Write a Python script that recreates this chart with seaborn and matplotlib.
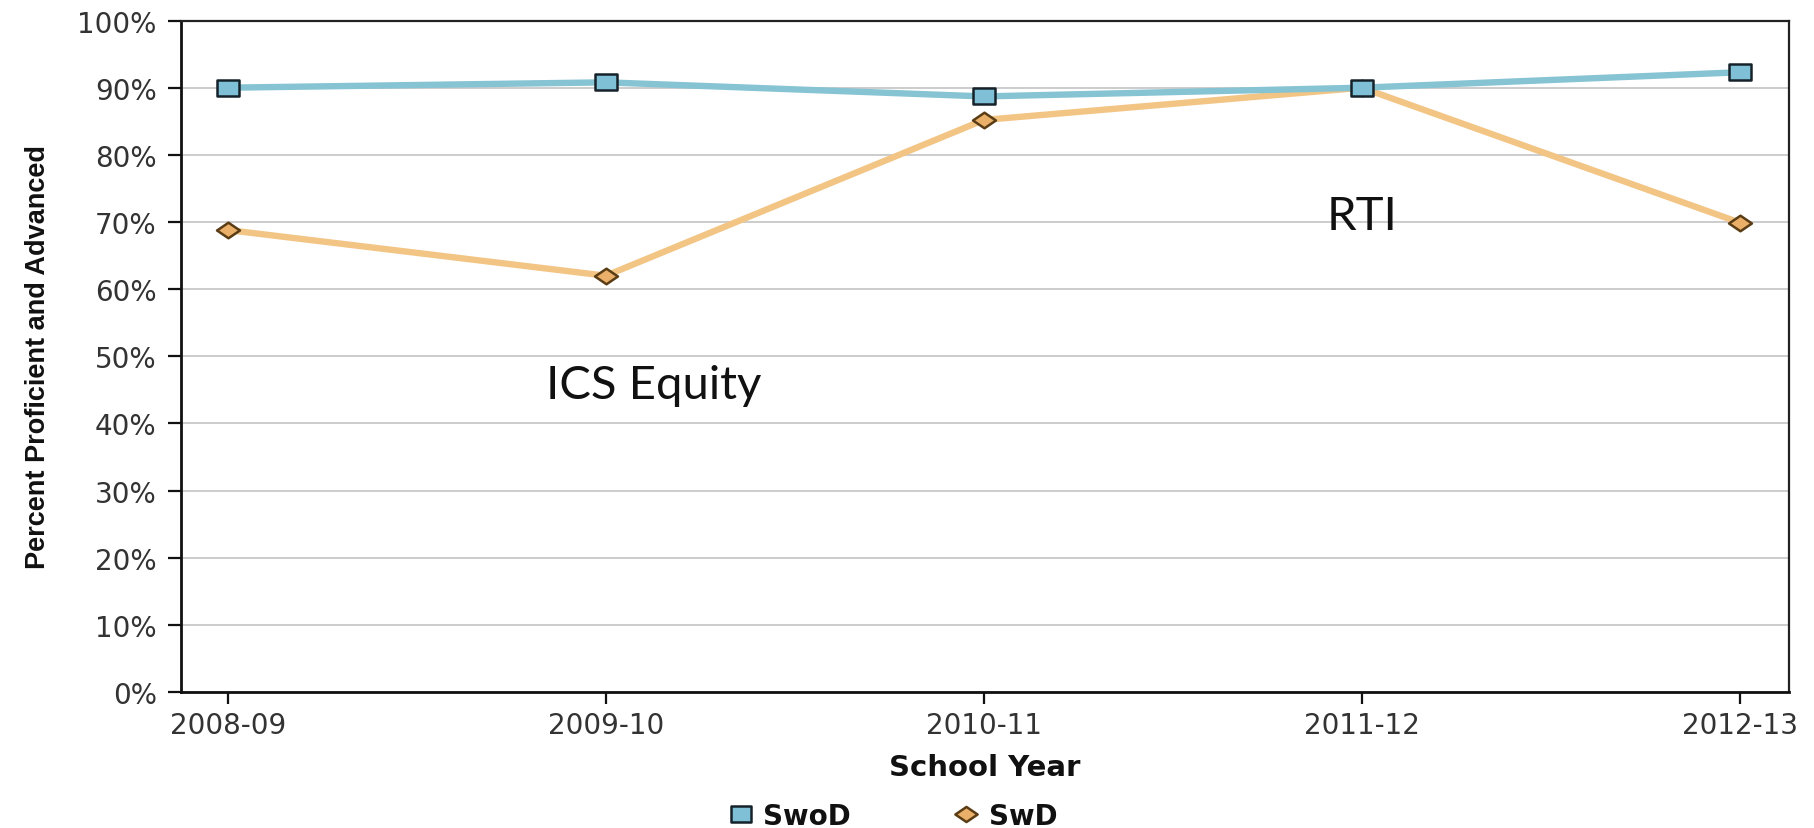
import numpy as np
import pandas as pd
import matplotlib
matplotlib.use("Agg")
import matplotlib.pyplot as plt
from matplotlib import font_manager
from matplotlib.path import Path
from matplotlib.lines import Line2D
from matplotlib.ticker import FuncFormatter
import seaborn as sns

# School years on the x axis
years = ["2008-09", "2009-10", "2010-11", "2011-12", "2012-13"]
# Percent proficient and advanced, by group
swod = [90.0, 90.8, 88.7, 90.0, 92.3]
swd = [68.8, 62.0, 85.2, 90.0, 69.9]
series_names = ["SwoD", "SwD"]
y_ticks = list(range(0, 101, 10))

# Notes placed on the plot: (text, x position in years, y value)
notes = [("ICS Equity", 1.126, 45.8), ("RTI", 3.0, 70.9)]

df = pd.DataFrame({
    "year_idx": list(range(len(years))) * 2,
    "value": swod + swd,
    "group": [series_names[0]] * len(years) + [series_names[1]] * len(years),
})

sns.set_theme(style="white")
plt.rcParams["font.family"] = ["DejaVu Sans"]

installed = {f.name for f in font_manager.fontManager.ttflist}
if "Liberation Sans Narrow" in installed:
    ylab_family, ylab_size = ["Liberation Sans Narrow", "DejaVu Sans"], 22
else:
    ylab_family, ylab_size = ["Liberation Sans", "DejaVu Sans"], 19.5

# Slightly wide markers: a flattened square and a flattened diamond
sq = Path([(-1, -0.74), (1, -0.74), (1, 0.74), (-1, 0.74), (-1, -0.74)],
          [Path.MOVETO, Path.LINETO, Path.LINETO, Path.LINETO, Path.CLOSEPOLY])
dm = Path([(-1, 0), (0, 0.68), (1, 0), (0, -0.68), (-1, 0)],
          [Path.MOVETO, Path.LINETO, Path.LINETO, Path.LINETO, Path.CLOSEPOLY])

styles = {
    "SwoD": dict(color="#86c3d3", marker=sq, markersize=16.5,
                 markerfacecolor="#7fc0d6", markeredgecolor="#15222a",
                 markeredgewidth=1.8),
    "SwD": dict(color="#f2c585", marker=dm, markersize=16.5,
                markerfacecolor="#eab06a", markeredgecolor="#5b3d15",
                markeredgewidth=1.8),
}

fig = plt.figure(figsize=(18.14, 8.29), dpi=100)
ax = fig.add_axes([0.0998, 0.164, 0.9862 - 0.0998, 0.974 - 0.164])

for name in ["SwD", "SwoD"]:
    sub = df[df["group"] == name]
    sns.lineplot(data=sub, x="year_idx", y="value", ax=ax, linewidth=4.6,
                 zorder=3 if name == "SwoD" else 2, legend=False, **styles[name])

ax.set_xlim(-0.124, 4.13)
ax.set_ylim(0, 100)
ax.set_xticks(range(len(years)))
ax.set_xticklabels(years)
ax.set_yticks(y_ticks)
ax.yaxis.set_major_formatter(FuncFormatter(lambda v, p: f"{v:.0f}%"))

ax.grid(axis="y", color="#c4c4c4", linewidth=1.2)
ax.grid(axis="x", visible=False)
ax.set_axisbelow(True)

for side in ["left", "bottom"]:
    ax.spines[side].set_color("#111111")
    ax.spines[side].set_linewidth(2.0)
for side in ["top", "right"]:
    ax.spines[side].set_color("#222222")
    ax.spines[side].set_linewidth(1.6)

ax.tick_params(axis="y", which="major", direction="out", length=9.5, width=1.6,
               color="#111111", pad=8, labelsize=20, labelcolor="#333333", left=True)
ax.tick_params(axis="x", which="major", direction="out", length=8.5, width=1.6,
               color="#111111", pad=5, labelsize=20, labelcolor="#333333", bottom=True)

ax.set_xlabel("School Year", fontsize=21, fontweight="bold", color="#111111", labelpad=10)
ax.set_ylabel("Percent Proficient and Advanced", fontsize=ylab_size, fontweight="bold",
              color="#111111", family=ylab_family)
ax.yaxis.set_label_coords(-0.081, 0.5)

for text, xv, yv in notes:
    ax.text(xv, yv, text, fontsize=34, family=["Lato", "DejaVu Sans"],
            ha="center", va="center", color="#111111", zorder=5)

handles = [
    Line2D([], [], linestyle="none", marker=sq, markersize=15,
           markerfacecolor="#7fc0d6", markeredgecolor="#15222a", markeredgewidth=1.8),
    Line2D([], [], linestyle="none", marker=dm, markersize=16,
           markerfacecolor="#eab06a", markeredgecolor="#5b3d15", markeredgewidth=1.8),
]
fig.legend(handles, series_names, loc="center", bbox_to_anchor=(0.4915, 0.0145), ncol=2,
           frameon=False, prop={"size": 20, "weight": "bold"}, columnspacing=3.6,
           handletextpad=0.25, handlelength=1.1, labelcolor="#111111")

fig.savefig("out.png", dpi=100, facecolor="white")
